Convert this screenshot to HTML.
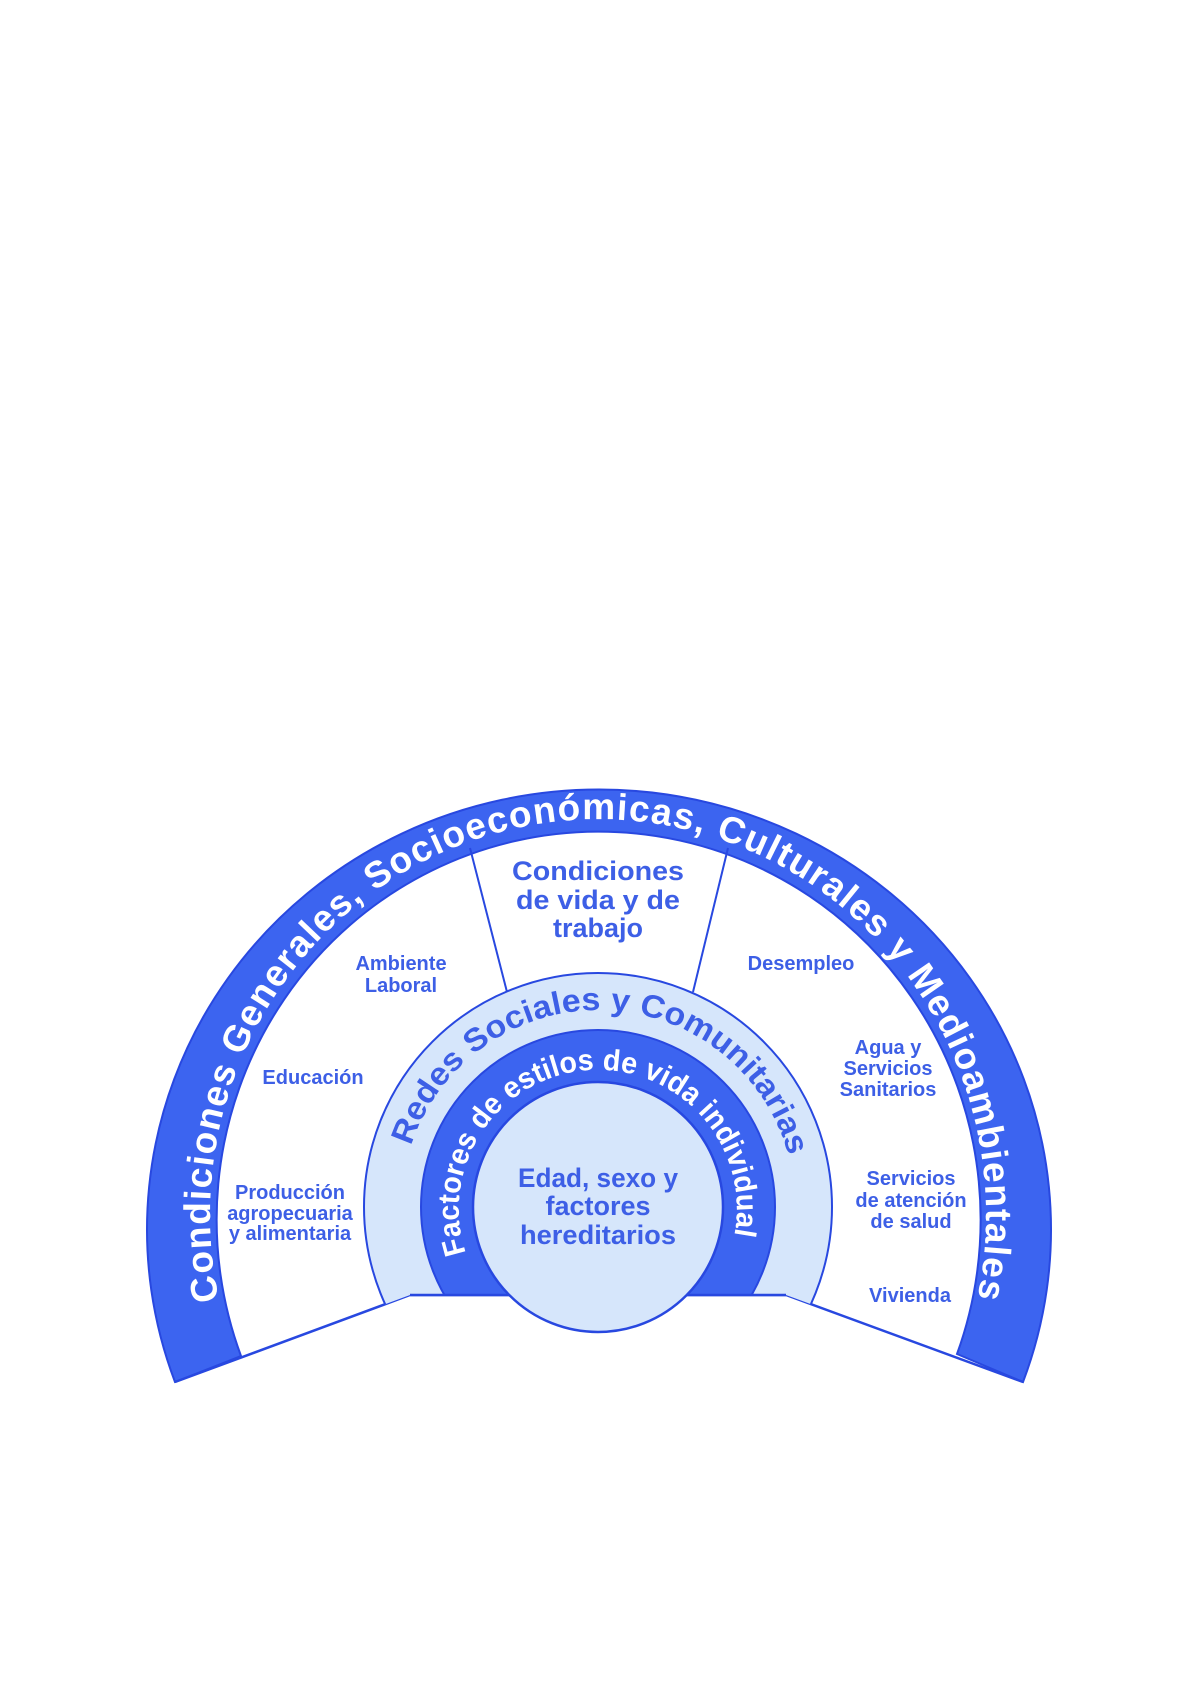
<!DOCTYPE html>
<html><head><meta charset="utf-8"><style>
html,body{margin:0;padding:0;background:#fff;}
svg{display:block;}
</style></head><body>
<svg width="1191" height="1684" viewBox="0 0 1191 1684" xmlns="http://www.w3.org/2000/svg">
<defs>
<clipPath id="above"><polygon points="0,0 1191,0 1191,1400 1023,1382 786,1295 410,1295 175,1382 0,1400"/></clipPath>
<path id="outerP" d="M219,1300 A388,396 0 1 1 977,1300"/>
<path id="redesP" d="M411,1146 A197,197 0 0 1 791,1166"/>
<path id="factP" d="M466,1253 A139,139 0 1 1 732,1245"/>
</defs>
<rect width="1191" height="1684" fill="#fff"/>
<path d="M175,1382 A452,440 0 1 1 1023,1382 L957,1354 A382,388 0 1 0 241,1356 Z" fill="#3c64f0" stroke="#2848e0" stroke-width="2"/>
<polyline points="175,1382 410,1295 786,1295 1023,1382" fill="none" stroke="#2848e0" stroke-width="2.5"/>
<line x1="470" y1="848" x2="507" y2="992" stroke="#2848e0" stroke-width="2"/>
<line x1="728" y1="848" x2="693" y2="992" stroke="#2848e0" stroke-width="2"/>
<g clip-path="url(#above)">
<circle cx="598" cy="1207" r="234" fill="#d6e6fb" stroke="#2848e0" stroke-width="2"/>
<circle cx="598" cy="1207" r="177" fill="#3c64f0" stroke="#2848e0" stroke-width="2"/>
</g>
<line x1="410" y1="1295" x2="786" y2="1295" stroke="#2848e0" stroke-width="2.5"/>
<circle cx="598" cy="1207" r="125" fill="#d6e6fb" stroke="#2848e0" stroke-width="2.5"/>

<g font-family="Liberation Sans, Arial, sans-serif" font-weight="bold">
<text font-size="37" fill="#fff"><textPath href="#outerP" textLength="1400" lengthAdjust="spacing">Condiciones Generales, Socioeconómicas, Culturales y Medioambientales</textPath></text>
<text font-size="32" fill="#3d5fe6"><textPath href="#redesP" textLength="505" lengthAdjust="spacingAndGlyphs">Redes Sociales y Comunitarias</textPath></text>
<text font-size="30" fill="#fff"><textPath href="#factP" textLength="508" lengthAdjust="spacingAndGlyphs">Factores de estilos de vida individual</textPath></text>

<g fill="#3d5fe6" text-anchor="middle">
<text font-size="27" x="598" y="1187" textLength="160" lengthAdjust="spacingAndGlyphs">Edad, sexo y</text>
<text font-size="27" x="598" y="1215">factores</text>
<text font-size="27" x="598" y="1244" textLength="156" lengthAdjust="spacingAndGlyphs">hereditarios</text>

<text font-size="27" x="598" y="880" textLength="172" lengthAdjust="spacingAndGlyphs">Condiciones</text>
<text font-size="27" x="598" y="909" textLength="164" lengthAdjust="spacingAndGlyphs">de vida y de</text>
<text font-size="27" x="598" y="937">trabajo</text>

<g font-size="20">
<text x="401" y="970">Ambiente</text>
<text x="401" y="992">Laboral</text>
<text x="313" y="1084">Educación</text>
<text x="290" y="1199">Producción</text>
<text x="290" y="1220">agropecuaria</text>
<text x="290" y="1240">y alimentaria</text>
<text x="801" y="970">Desempleo</text>
<text x="888" y="1054">Agua y</text>
<text x="888" y="1075">Servicios</text>
<text x="888" y="1096">Sanitarios</text>
<text x="911" y="1185">Servicios</text>
<text x="911" y="1207">de atención</text>
<text x="911" y="1228">de salud</text>
<text x="910" y="1302">Vivienda</text>
</g>
</g>
</g>
</svg>
</body></html>
